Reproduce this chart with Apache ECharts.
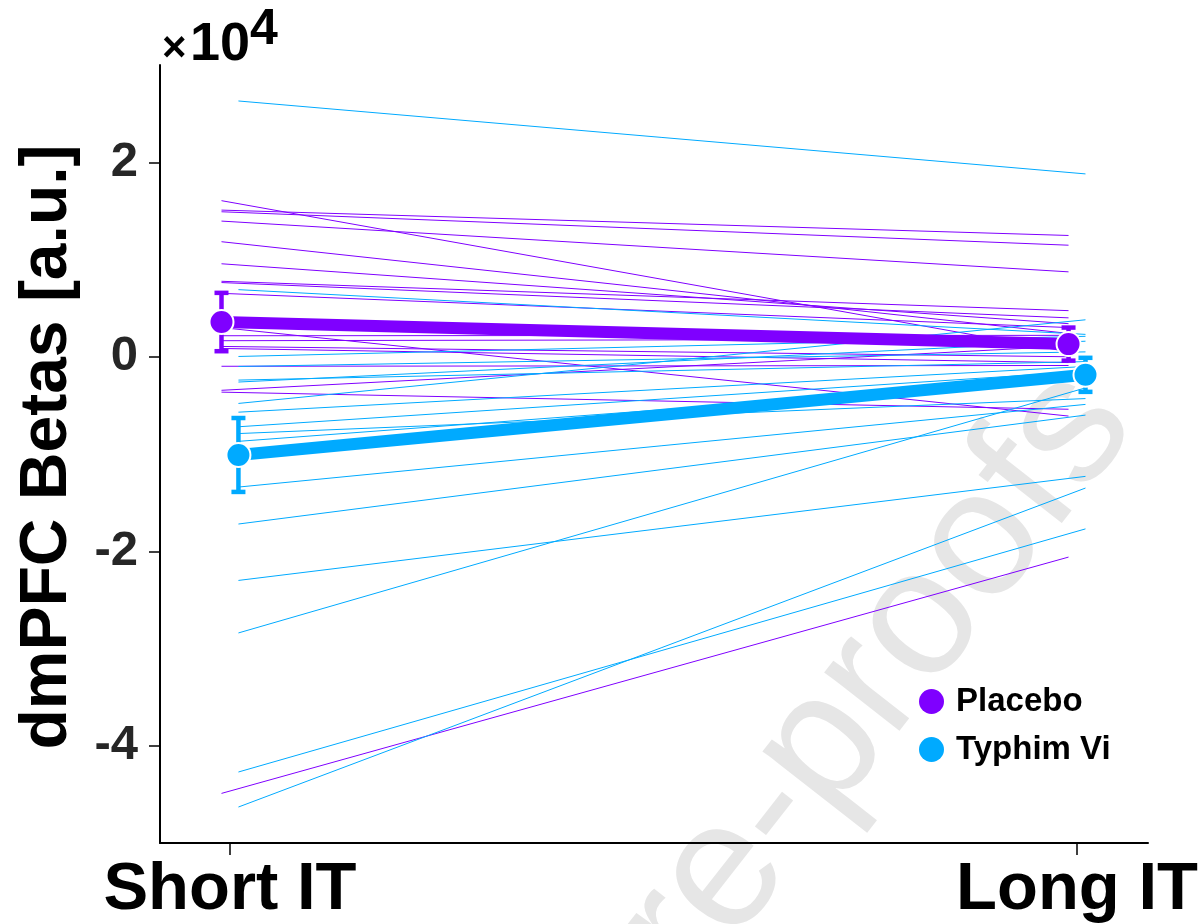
<!DOCTYPE html>
<html>
<head>
<meta charset="utf-8">
<title>dmPFC Betas</title>
<script src="https://cdn.jsdelivr.net/npm/echarts@6/dist/echarts.min.js"></script>
<style>
    html, body { margin: 0; padding: 0; background: #fff; }
    #chart { width: 1203px; height: 924px; }
</style>
</head>
<body>
<div id="chart"></div>
<script>
    // values in units of 1e4 (the axis shows x10^4)
    const categories = ['Short IT', 'Long IT'];
    const groups = ['Placebo', 'Typhim Vi'];
    const yTicks = [-4, -2, 0, 2];

    const placeboShort = [1.605, 1.508, 1.491, 1.395, 1.183, 0.956, 0.776, 0.763, 0.652, 0.30, 0.216, 0.165, 0.106, 0.085, -0.098, -0.345, -0.364, -4.49];
    const placeboLong = [0.05, 1.247, 1.147, 0.873, 0.24, 0.34, 0.474, 0.40, 0.30, -0.61, 0.22, 0.18, 0.0, -0.06, -0.09, 0.11, -0.54, -2.06];

    const typhimShort = [2.63, 0.69, 0.003, -0.10, -0.24, -0.26, -0.48, -0.57, -0.72, -0.79, -0.87, -1.34, -1.72, -2.30, -2.84, -4.27, -4.63];
    const typhimLong = [1.88, 0.23, 0.21, 0.05, -0.05, 0.16, 0.38, -0.10, -0.15, -0.43, -0.22, -0.49, -0.60, -1.23, -0.32, -1.77, -1.35];

    const placeboMean = [0.357, 0.13];
    const placeboErr = [0.30, 0.17];
    const typhimMean = [-1.01, -0.186];
    const typhimErr = [0.38, 0.175];

    const purple = '#7f00ff';
    const cyan = '#00aaff';
    const font = "'Liberation Sans', Arial, sans-serif";
    const offsets = [-0.01, 0.01];

    const myChart = echarts.init(document.getElementById('chart'), null, { renderer: 'canvas' });

    function subjectLines(starts, ends, off, color) {
        return starts.map((s, i) => ({
            type: 'line',
            silent: true,
            symbol: 'none',
            z: 2,
            data: [[0 + off, s], [1 + off, ends[i]]],
            lineStyle: { color: color, width: 1 }
        }));
    }

    function errorBars(mean, err, off, color) {
        return {
            type: 'custom',
            silent: true,
            z: 4,
            encode: { x: 0, y: [1, 2] },
            data: mean.map((m, i) => [i + off, m - err[i], m + err[i]]),
            renderItem(params, api) {
                const lo = api.coord([api.value(0), api.value(1)]);
                const hi = api.coord([api.value(0), api.value(2)]);
                const w = 7;
                const style = { stroke: color, lineWidth: 4.5 };
                return {
                    type: 'group',
                    children: [
                        { type: 'line', shape: { x1: lo[0], y1: lo[1], x2: hi[0], y2: hi[1] }, style: style },
                        { type: 'line', shape: { x1: lo[0] - w, y1: lo[1], x2: lo[0] + w, y2: lo[1] }, style: style },
                        { type: 'line', shape: { x1: hi[0] - w, y1: hi[1], x2: hi[0] + w, y2: hi[1] }, style: style }
                    ]
                };
            }
        };
    }

    function meanLine(name, mean, off, color) {
        return {
            name: name,
            type: 'line',
            z: 5,
            symbol: 'circle',
            symbolSize: 24,
            data: mean.map((m, i) => [i + off, m]),
            lineStyle: { color: color, width: 12 },
            itemStyle: { color: color, borderColor: '#fff', borderWidth: 2 }
        };
    }

    myChart.setOption({
        animation: false,
        grid: { left: 160, top: 65, right: 55, bottom: 81 },
        legend: {
            data: groups,
            orient: 'vertical',
            left: 914,
            top: 680,
            icon: 'circle',
            itemWidth: 25,
            itemHeight: 25,
            itemGap: 15,
            itemStyle: { borderWidth: 0 },
            textStyle: { fontSize: 33, fontWeight: 'bold', color: '#000', fontFamily: font, padding: [0, 0, 0, 7] }
        },
        xAxis: {
            type: 'value',
            min: -0.0826,
            max: 1.0838,
            splitLine: { show: false },
            axisLine: { show: true, onZero: false, lineStyle: { color: '#000', width: 2 } },
            axisTick: { show: true, customValues: [0, 1], length: 12, lineStyle: { color: '#000', width: 1.5 } },
            axisLabel: {
                customValues: [0, 1],
                formatter: v => categories[Math.round(v)],
                fontSize: 67,
                fontWeight: 'bold',
                color: '#000',
                fontFamily: font,
                margin: 14
            }
        },
        yAxis: {
            type: 'value',
            min: -5,
            max: 3,
            splitLine: { show: false },
            axisLine: { show: true, onZero: false, lineStyle: { color: '#000', width: 2 } },
            axisTick: { show: true, customValues: yTicks, length: 11, lineStyle: { color: '#000', width: 1.5 } },
            axisLabel: {
                customValues: yTicks,
                fontSize: 49,
                fontWeight: 'bold',
                color: '#262626',
                fontFamily: font,
                margin: 22
            }
        },
        graphic: [
            {
                type: 'text',
                z: -10,
                x: 1170,
                y: 450,
                rotation: 52 * Math.PI / 180,
                style: { text: 'Journal Pre-proofs', fontSize: 180, fontFamily: font, fill: '#e6e6e6', textAlign: 'right', textVerticalAlign: 'bottom' }
            },
            {
                type: 'text',
                x: 48,
                y: 447,
                rotation: Math.PI / 2,
                style: { text: 'dmPFC Betas [a.u.]', fontSize: 66, fontWeight: 'bold', fontFamily: font, fill: '#000', textAlign: 'center', textVerticalAlign: 'middle' }
            },
            {
                type: 'text',
                x: 162,
                y: 49,
                style: { text: '×', fontSize: 42, fontWeight: 'bold', fontFamily: font, fill: '#000', textAlign: 'left', textVerticalAlign: 'middle' }
            },
            {
                type: 'text',
                x: 190,
                y: 45,
                style: { text: '10', fontSize: 54, fontWeight: 'bold', fontFamily: font, fill: '#000', textAlign: 'left', textVerticalAlign: 'middle' }
            },
            {
                type: 'text',
                x: 250,
                y: 30,
                style: { text: '4', fontSize: 50, fontWeight: 'bold', fontFamily: font, fill: '#000', textAlign: 'left', textVerticalAlign: 'middle' }
            }
        ],
        series: [
            ...subjectLines(placeboShort, placeboLong, offsets[0], purple),
            ...subjectLines(typhimShort, typhimLong, offsets[1], cyan),
            errorBars(placeboMean, placeboErr, offsets[0], purple),
            errorBars(typhimMean, typhimErr, offsets[1], cyan),
            meanLine(groups[0], placeboMean, offsets[0], purple),
            meanLine(groups[1], typhimMean, offsets[1], cyan)
        ]
    });
</script>
</body>
</html>
